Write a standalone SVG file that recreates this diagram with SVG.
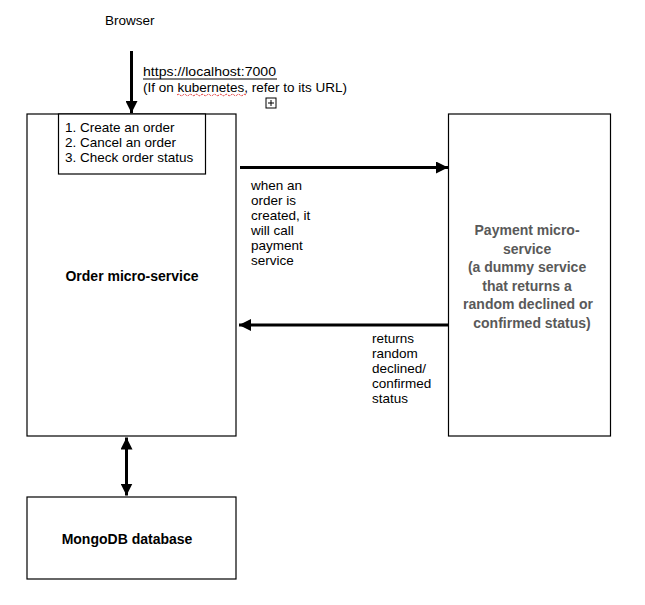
<svg xmlns="http://www.w3.org/2000/svg" width="645" height="605" viewBox="0 0 645 605">
<defs>
<style>
.box{fill:#fff;stroke:#000;stroke-width:1.2}
.t{font-family:"Liberation Sans",Arial,sans-serif;font-size:13.5px;fill:#000}
.b{font-family:"Liberation Sans",Arial,sans-serif;font-size:14px;font-weight:bold;fill:#000}
.g{fill:#595959}
.ln{stroke:#000;stroke-width:3;fill:none}
</style>
<marker id="ah" viewBox="0 0 10 10" refX="10" refY="5" markerWidth="4" markerHeight="4" orient="auto-start-reverse" markerUnits="strokeWidth">
<path d="M0,0 L10,5 L0,10 Z" fill="#000"/>
</marker>
</defs>
<rect width="645" height="605" fill="#fff"/>
<g id="browser">
<text class="t" x="105" y="25">Browser</text>
</g>
<g id="order-service">
<rect class="box" x="27" y="114" width="209" height="322"/>
<text class="b" x="132" y="281" text-anchor="middle">Order micro-service</text>
</g>
<g id="order-menu">
<rect class="box" x="58.5" y="114" width="147" height="60"/>
<text class="t" x="65" y="132">1. Create an order</text>
<text class="t" x="65" y="147">2. Cancel an order</text>
<text class="t" x="65" y="162">3. Check order status</text>
</g>
<g id="payment-service">
<rect class="box" x="448.5" y="114" width="162" height="322"/>
<text class="b g" text-anchor="middle" x="529">
<tspan x="529" y="235">Payment micro-</tspan>
<tspan x="529" y="253.5">service</tspan>
<tspan x="529" y="272">(a dummy service</tspan>
<tspan x="529" y="290.5">that returns a</tspan>
<tspan x="530" y="309">random declined or</tspan>
<tspan x="532" y="327.5">confirmed status)</tspan>
</text>
</g>
<g id="mongodb">
<rect class="box" x="27" y="497" width="209" height="82"/>
<text class="b" x="127" y="544" text-anchor="middle">MongoDB database</text>
</g>
<g id="connectors">
<line class="ln" x1="131.5" y1="51" x2="131.5" y2="113" marker-end="url(#ah)"/>
<text class="t" x="143" y="76" textLength="133" lengthAdjust="spacingAndGlyphs">https://localhost:7000</text>
<line x1="143" y1="79" x2="277" y2="79" stroke="#000" stroke-width="1"/>
<text class="t" x="143" y="92">(If on kubernetes, refer to its URL)</text>
<path d="M177,95 q1.5,-1.5 3,0 t3,0 t3,0 t3,0 t3,0 t3,0 t3,0 t3,0 t3,0 t3,0 t3,0 t3,0 t3,0 t3,0 t3,0 t3,0 t3,0 t3,0 t3,0 t3,0 t3,0 t3,0 t3,0" fill="none" stroke="#e03030" stroke-width="1" stroke-dasharray="2,1"/>
<rect x="266" y="98" width="10" height="10" fill="#fff" stroke="#000" stroke-width="1"/>
<path d="M271,100 V106 M268,103 H274" stroke="#000" stroke-width="1"/>
<line class="ln" x1="240" y1="167.5" x2="448" y2="167.5" marker-end="url(#ah)"/>
<text class="t">
<tspan x="251" y="190">when an</tspan>
<tspan x="251" y="205">order is</tspan>
<tspan x="251" y="220">created, it</tspan>
<tspan x="251" y="235">will call</tspan>
<tspan x="251" y="250">payment</tspan>
<tspan x="251" y="265">service</tspan>
</text>
<line class="ln" x1="448" y1="325" x2="239" y2="325" marker-end="url(#ah)"/>
<text class="t">
<tspan x="372" y="343">returns</tspan>
<tspan x="372" y="358">random</tspan>
<tspan x="372" y="373">declined/</tspan>
<tspan x="372" y="388">confirmed</tspan>
<tspan x="372" y="403">status</tspan>
</text>
<line class="ln" x1="126.5" y1="437.5" x2="126.5" y2="495.5" marker-start="url(#ah)" marker-end="url(#ah)"/>
</g>
</svg>
